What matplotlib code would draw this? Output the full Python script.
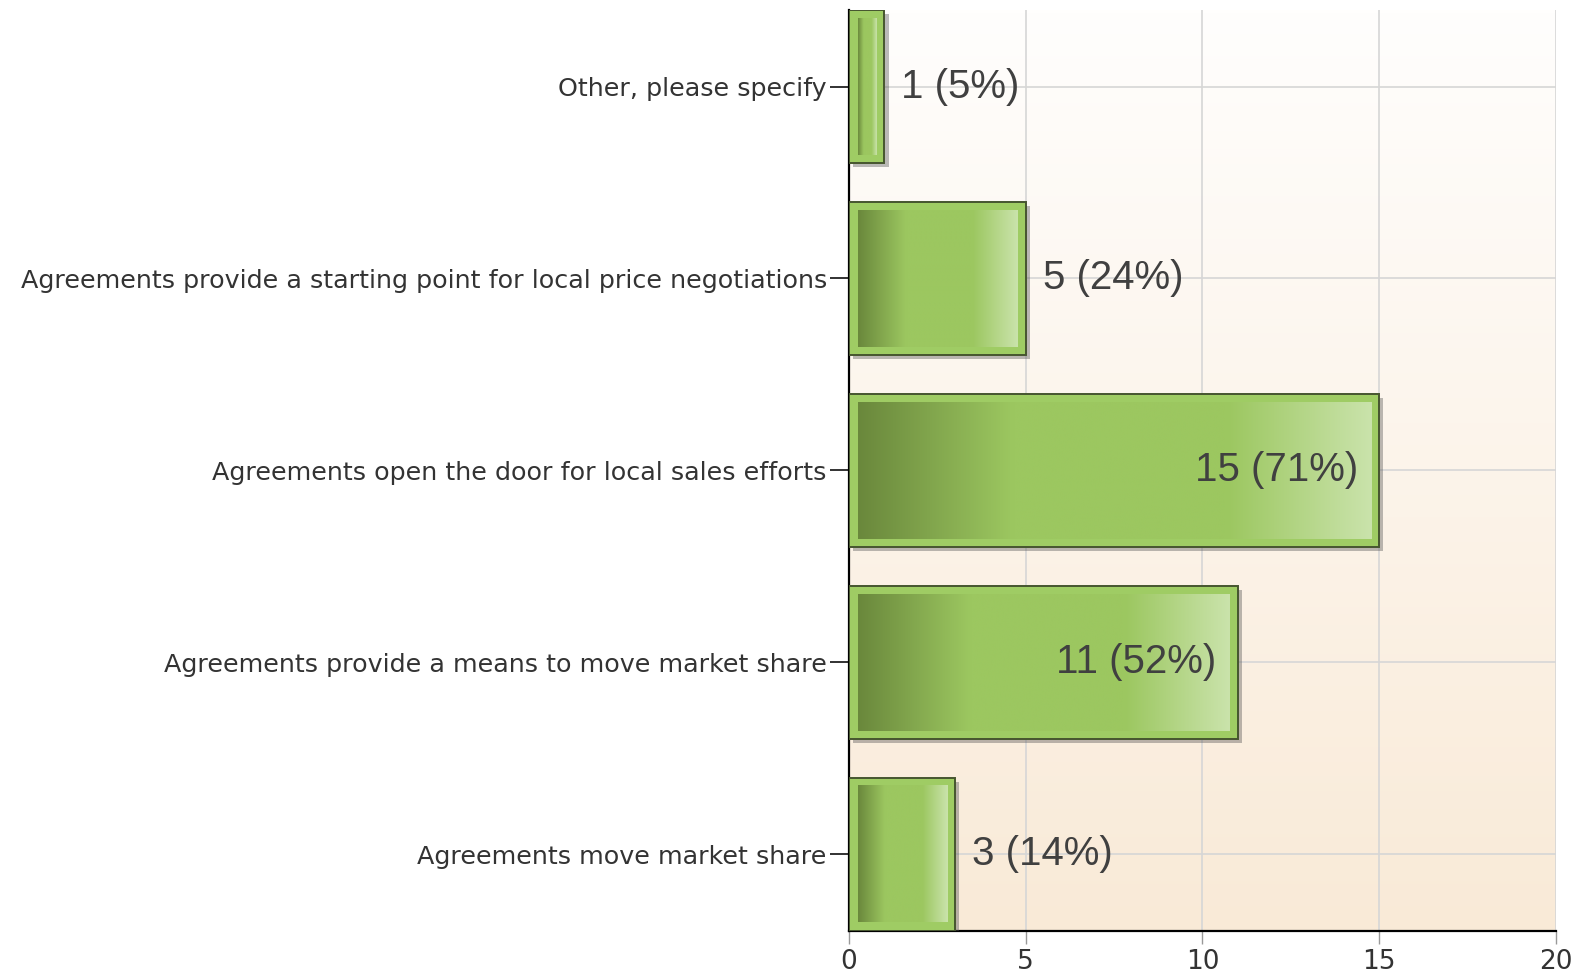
import numpy as np
import matplotlib.pyplot as plt
import matplotlib.patheffects as pe
from matplotlib.colors import LinearSegmentedColormap

# survey answers, bottom to top as drawn
categories = [
    "Agreements move market share",
    "Agreements provide a means to move market share",
    "Agreements open the door for local sales efforts",
    "Agreements provide a starting point for local price negotiations",
    "Other, please specify",
]
counts = [3, 11, 15, 5, 1]
percents = [14, 52, 71, 24, 5]
x_ticks = [0, 5, 10, 15, 20]

bar_h = 0.8
pad_x = 0.24   # inner gradient inset (data units)
pad_y = 0.045

bar_cmap = LinearSegmentedColormap.from_list(
    "bar", [(0.0, "#6a883c"), (0.3, "#9cc760"), (0.72, "#9cc760"), (1.0, "#cae3ab")])
bg_cmap = LinearSegmentedColormap.from_list("bg", ["#fffefd", "#f9ead7"])

fig = plt.figure(figsize=(15.79, 9.76), dpi=100)
ax = fig.add_axes([0.5377, 0.046, 0.4477, 0.944])

# background gradient
ax.imshow(np.linspace(0, 1, 256).reshape(-1, 1), cmap=bg_cmap, aspect="auto",
          extent=(0, 1, 0, 1), transform=ax.transAxes, zorder=0)

y = np.arange(len(categories))
shadow = [pe.SimplePatchShadow(offset=(3, -3), shadow_rgbFace="#555555", alpha=0.4), pe.Normal()]
ax.barh(y, counts, height=bar_h, color="#9fcc64", edgecolor="#46552f",
        linewidth=1.4, zorder=3, path_effects=shadow)

grad = np.linspace(0, 1, 256).reshape(1, -1)
for i, v in enumerate(counts):
    ax.imshow(grad, cmap=bar_cmap, aspect="auto", interpolation="bicubic",
              extent=(pad_x, v - pad_x, i - bar_h / 2 + pad_y, i + bar_h / 2 - pad_y),
              zorder=4)
    label = f"{v} ({percents[i]}%)"
    if v >= 10:
        ax.text(v - 0.6, i, label, ha="right", va="center", fontsize=29,
                color="#404040", family="Liberation Sans", zorder=5)
    else:
        ax.text(v + 0.48, i, label, ha="left", va="center", fontsize=29,
                color="#404040", family="Liberation Sans", zorder=5)

ax.set_xlim(0, 20)
ax.set_ylim(-0.4, len(categories) - 0.6)
ax.set_xticks(x_ticks)
ax.set_yticks(y)
ax.set_yticklabels(categories, fontsize=18.3, color="#333333", family="DejaVu Sans")
ax.tick_params(axis="y", length=14, width=1.3, color="#222222", pad=2)
ax.tick_params(axis="x", length=9, width=1, color="#999999", labelsize=19,
               labelcolor="#333333", pad=4)

ax.set_axisbelow(True)
ax.grid(True, color="#d6d6d6", linewidth=1.2)
for s in ["top", "right"]:
    ax.spines[s].set_visible(False)
ax.spines["left"].set_linewidth(1.6)
ax.spines["bottom"].set_linewidth(1.6)

fig.savefig("out.png", dpi=100)
